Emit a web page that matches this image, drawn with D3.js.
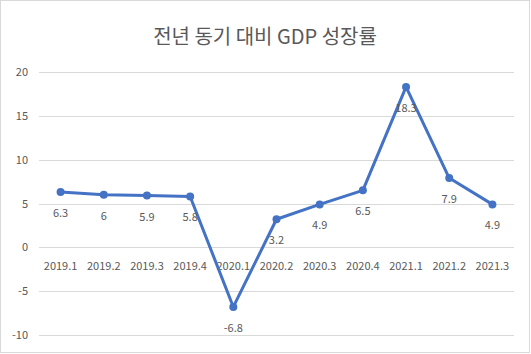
<!DOCTYPE html>
<html>
<head>
<meta charset="utf-8">
<script src="https://cdn.jsdelivr.net/npm/d3@7"></script>
<style>
  body { margin: 0; background: #fff; }
  text { font-family: "Noto Sans CJK KR", "Noto Sans", sans-serif; fill: #595959; }
</style>
</head>
<body>
<div id="chart"></div>
<script>
const quarters = ["2019.1", "2019.2", "2019.3", "2019.4", "2020.1", "2020.2", "2020.3", "2020.4", "2021.1", "2021.2", "2021.3"];
const growth = [6.3, 6, 5.9, 5.8, -6.8, 3.2, 4.9, 6.5, 18.3, 7.9, 4.9];
const yTicks = [20, 15, 10, 5, 0, -5, -10];

var width = 531,
  height = 354;

var svg = d3.select("#chart")
  .append("svg")
  .attr("width", width)
  .attr("height", height);

// outer frame
svg.append("rect")
  .attr("x", 0.5).attr("y", 0.5)
  .attr("width", 529).attr("height", 352)
  .attr("fill", "#fff")
  .attr("stroke", "#d9d9d9");

svg.append("text")
  .attr("x", 265)
  .attr("y", 44)
  .attr("text-anchor", "middle")
  .style("font-size", "20px")
  .text("전년 동기 대비 GDP 성장률");

const x = d3.scaleBand()
  .domain(quarters)
  .range([39, 514]);

const y = d3.scaleLinear()
  .domain([-10, 20])
  .range([335, 72]);

// grid
svg.append("g")
  .selectAll("line")
  .data(yTicks)
  .enter().append("line")
  .attr("x1", 39).attr("x2", 514)
  .attr("y1", d => Math.round(y(d)) + 0.5)
  .attr("y2", d => Math.round(y(d)) + 0.5)
  .attr("stroke", "#d9d9d9")
  .attr("stroke-width", 1);

// y axis labels
svg.append("g")
  .selectAll("text")
  .data(yTicks)
  .enter().append("text")
  .attr("x", 28)
  .attr("y", d => y(d) + 4)
  .attr("text-anchor", "end")
  .style("font-size", "11px")
  .text(d => d);

// category labels sit on the zero line
svg.append("g")
  .selectAll("text")
  .data(quarters)
  .enter().append("text")
  .attr("x", d => x(d) + x.bandwidth() / 2)
  .attr("y", y(0) + 23)
  .attr("text-anchor", "middle")
  .style("font-size", "11px")
  .text(d => d);

const pts = quarters.map((q, i) => ({ q: q, v: growth[i] }));

const line = d3.line()
  .x(d => x(d.q) + x.bandwidth() / 2)
  .y(d => y(d.v));

svg.append("path")
  .datum(pts)
  .attr("d", line)
  .attr("fill", "none")
  .attr("stroke", "#4472C4")
  .attr("stroke-width", 3)
  .attr("stroke-linejoin", "round");

svg.append("g")
  .selectAll("circle")
  .data(pts)
  .enter().append("circle")
  .attr("cx", d => x(d.q) + x.bandwidth() / 2)
  .attr("cy", d => y(d.v))
  .attr("r", 4)
  .attr("fill", "#4472C4");

svg.append("g")
  .selectAll("text")
  .data(pts)
  .enter().append("text")
  .attr("x", d => x(d.q) + x.bandwidth() / 2)
  .attr("y", d => y(d.v) + 25)
  .attr("text-anchor", "middle")
  .style("font-size", "11px")
  .text(d => d.v);
</script>
</body>
</html>
